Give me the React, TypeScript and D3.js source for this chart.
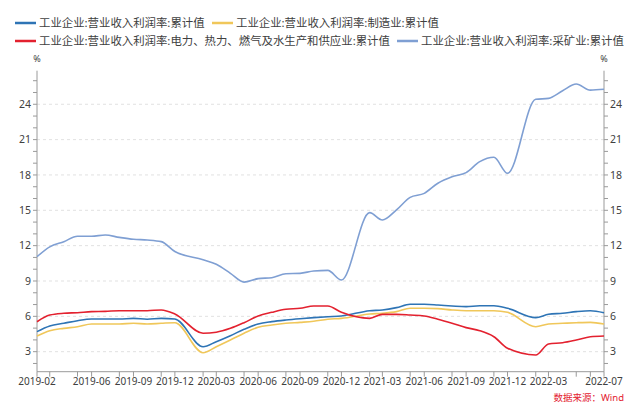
import React from 'react';
import * as d3 from 'd3';

// months with data (Jan is merged into Feb, so no Jan points)
const months = [
  '2019-02', '2019-03', '2019-04', '2019-05', '2019-06', '2019-07', '2019-08', '2019-09', '2019-10', '2019-11', '2019-12',
  '2020-02', '2020-03', '2020-04', '2020-05', '2020-06', '2020-07', '2020-08', '2020-09', '2020-10', '2020-11', '2020-12',
  '2021-02', '2021-03', '2021-04', '2021-05', '2021-06', '2021-07', '2021-08', '2021-09', '2021-10', '2021-11', '2021-12',
  '2022-02', '2022-03', '2022-04', '2022-05', '2022-06', '2022-07',
];

const total = [
  4.7, 5.18, 5.41, 5.63, 5.77, 5.77, 5.77, 5.83, 5.75, 5.83, 5.77,
  3.42, 3.85, 4.36, 4.9, 5.35, 5.55, 5.69, 5.8, 5.89, 5.97, 6.03,
  6.48, 6.54, 6.74, 7.02, 7.02, 6.96, 6.88, 6.82, 6.9, 6.9, 6.68,
  5.89, 6.17, 6.26, 6.4, 6.48, 6.31,
];

const manufacturing = [
  4.33, 4.78, 4.98, 5.12, 5.35, 5.35, 5.35, 5.41, 5.35, 5.41, 5.46,
  2.91, 3.42, 3.99, 4.56, 5.07, 5.26, 5.41, 5.49, 5.58, 5.75, 5.83,
  6.2, 6.26, 6.4, 6.68, 6.68, 6.65, 6.54, 6.48, 6.48, 6.48, 6.34,
  5.12, 5.35, 5.41, 5.46, 5.49, 5.35,
];

const power = [
  5.54, 6.11, 6.26, 6.31, 6.4, 6.42, 6.48, 6.48, 6.48, 6.54, 6.2,
  4.56, 4.65, 4.98, 5.46, 6.03, 6.34, 6.6, 6.68, 6.88, 6.88, 6.34,
  5.83, 6.17, 6.17, 6.11, 6.03, 5.75, 5.41, 5.04, 4.78, 4.27, 3.29,
  2.72, 3.65, 3.76, 3.99, 4.27, 4.33,
];

const mining = [
  11.06, 11.9, 12.34, 12.8, 12.8, 12.9, 12.7, 12.54, 12.48, 12.34, 11.5,
  10.8, 10.42, 9.65, 8.9, 9.2, 9.28, 9.62, 9.65, 9.85, 9.9, 9.08,
  14.8, 14.18, 15.03, 16.1, 16.44, 17.3, 17.85, 18.2, 19.13, 19.5, 18.14,
  24.42, 24.5, 25.15, 25.72, 25.2, 25.27,
];

const seriesNames = [
  '工业企业:营业收入利润率:累计值',
  '工业企业:营业收入利润率:制造业:累计值',
  '工业企业:营业收入利润率:电力、热力、燃气及水生产和供应业:累计值',
  '工业企业:营业收入利润率:采矿业:累计值',
];
const seriesColors = ['#2e74b5', '#f0c75a', '#e3212f', '#7f9fd3'];

const yTicks = [3, 6, 9, 12, 15, 18, 21, 24];
const xLabels = [
  '2019-02', '2019-06', '2019-09', '2019-12', '2020-03', '2020-06', '2020-09', '2020-12',
  '2021-03', '2021-06', '2021-09', '2021-12', '2022-03', '2022-07',
];

const width = 641;
const height = 408;
const left = 37;
const right = 604;
const top = 70.7;
const bottom = 371.7;

const parse = d3.timeParse('%Y-%m');

const App = () => {
  const dates = months.map((m) => parse(m) as Date);
  const x = d3.scaleTime().domain([dates[0], dates[dates.length - 1]]).range([left, right]);
  const y = d3.scaleLinear().domain([1.3, 26.85]).range([bottom, top]);

  const line = d3
    .line<number>()
    .x((_, i) => x(dates[i]))
    .y((d) => y(d))
    .curve(d3.curveMonotoneX);

  const allSeries = [total, manufacturing, power, mining];

  // minor ticks every 1%
  const minorTicks = d3.range(2, 27);
  // x ticks: every month except Jan/Apr/Jul/Oct, plus the ends
  const xTicks = d3.timeMonth
    .range(dates[0], dates[dates.length - 1])
    .filter((d) => d.getMonth() % 3 !== 0)
    .concat([dates[dates.length - 1]]);

  const font = "'Noto Sans', 'Noto Sans CJK SC', sans-serif";
  const axisColor = '#9a9a9a';
  const textColor = '#404040';

  const legend = [
    { x: 15, y: 23, i: 0 },
    { x: 212, y: 23, i: 1 },
    { x: 15, y: 41, i: 2 },
    { x: 397, y: 41, i: 3 },
  ];

  return (
    <svg width={width} height={height} style={{ position: 'absolute', left: 0, top: 0 }} fontFamily={font}>
      <rect width={width} height={height} fill="#fff" />
      {legend.map((l) => (
        <g key={l.i}>
          <line x1={l.x} x2={l.x + 21} y1={l.y} y2={l.y} stroke={seriesColors[l.i]} strokeWidth={2.5} />
          <text x={l.x + 24} y={l.y} dy="0.35em" fontSize={11.4} fill={textColor}>
            {seriesNames[l.i]}
          </text>
        </g>
      ))}

      {/* grid */}
      {yTicks.map((t) => (
        <line key={t} x1={left} x2={right} y1={y(t)} y2={y(t)} stroke="#d9d9d9" strokeDasharray="3,3" strokeWidth={0.8} />
      ))}

      {/* axes */}
      <line x1={left} x2={left} y1={top} y2={bottom} stroke={axisColor} />
      <line x1={right} x2={right} y1={top} y2={bottom} stroke={axisColor} />
      <line x1={left} x2={right} y1={bottom} y2={bottom} stroke={axisColor} />
      {minorTicks.map((t) => (
        <g key={t}>
          <line x1={left - 4} x2={left} y1={y(t)} y2={y(t)} stroke={axisColor} />
          <line x1={right} x2={right + 4} y1={y(t)} y2={y(t)} stroke={axisColor} />
        </g>
      ))}
      {yTicks.map((t) => (
        <g key={t} fontSize={10.5} fill={textColor}>
          <text x={left - 6} y={y(t)} dy="0.35em" textAnchor="end">{t}</text>
          <text x={right + 6} y={y(t)} dy="0.35em">{t}</text>
        </g>
      ))}
      <text x={left} y={62} fontSize={9} fill={textColor} textAnchor="middle">%</text>
      <text x={right} y={62} fontSize={9} fill={textColor} textAnchor="middle">%</text>

      {xTicks.map((d, i) => (
        <line key={i} x1={x(d)} x2={x(d)} y1={bottom} y2={bottom + 5} stroke={axisColor} />
      ))}
      {xLabels.map((s) => (
        <text key={s} x={x(parse(s) as Date)} y={bottom + 13.5} fontSize={10} fill={textColor} textAnchor="middle">
          {s}
        </text>
      ))}

      {/* lines */}
      {allSeries.map((s, i) => (
        <path key={i} d={line(s) || ''} fill="none" stroke={seriesColors[i]} strokeWidth={1.6} />
      ))}

      <text x={624} y={400.5} fontSize={9.5} fill="#e3212f" textAnchor="end">数据来源：Wind</text>
    </svg>
  );
};

export default App;
